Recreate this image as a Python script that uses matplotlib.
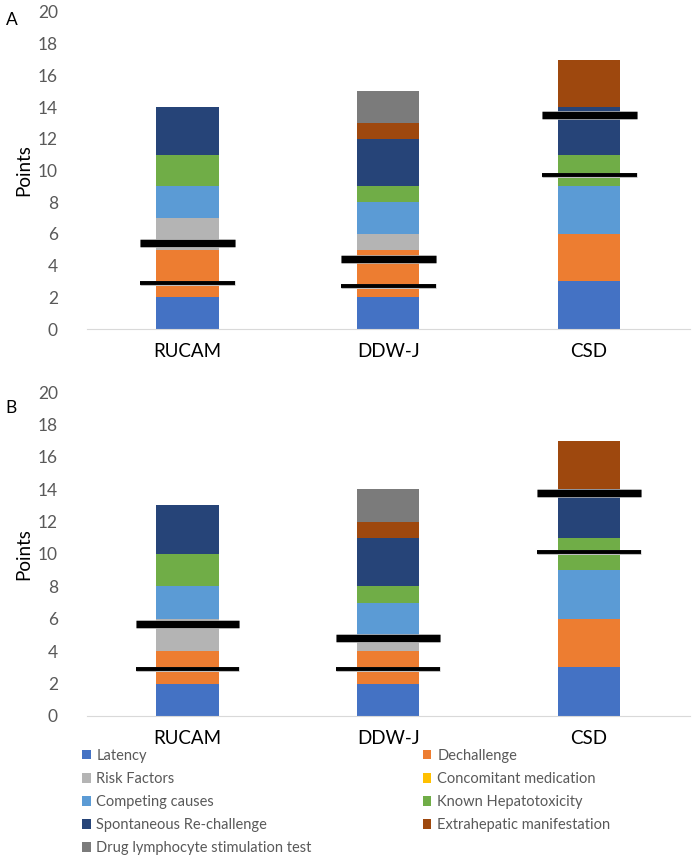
import matplotlib.pyplot as plt
import matplotlib.patheffects as pe
from matplotlib.patches import Patch
import numpy as np

plt.rcParams['font.family'] = ['Lato', 'DejaVu Sans']

tools = ['RUCAM', 'DDW-J', 'CSD']

criteria = ['Latency', 'Dechallenge', 'Risk Factors', 'Concomitant medication',
            'Competing causes', 'Known Hepatotoxicity', 'Spontaneous Re-challenge',
            'Extrahepatic manifestation', 'Drug lymphocyte stimulation test']
colors = ['#4472C4', '#ED7D31', '#B4B4B4', '#FFC000', '#5B9BD5', '#70AD47',
          '#264478', '#9E480E', '#7B7B7B']

# panel A, points per criterion (RUCAM, DDW-J, CSD)
a_latency = [2, 2, 3]
a_dechallenge = [3, 3, 3]
a_risk = [2, 1, 0]
a_concomitant = [0, 0, 0]
a_competing = [2, 2, 3]
a_known = [2, 1, 2]
a_rechallenge = [3, 3, 3]
a_extrahepatic = [0, 1, 3]
a_dlst = [0, 2, 0]
a_upper = [5.4, 4.4, 13.5]
a_lower = [2.9, 2.7, 9.7]

# panel B
b_latency = [2, 2, 3]
b_dechallenge = [2, 2, 3]
b_risk = [2, 1, 0]
b_concomitant = [0, 0, 0]
b_competing = [2, 2, 3]
b_known = [2, 1, 2]
b_rechallenge = [3, 3, 3]
b_extrahepatic = [0, 1, 3]
b_dlst = [0, 2, 0]
b_upper = [5.7, 4.8, 13.75]
b_lower = [2.9, 2.9, 10.1]

panels = [
    ('A', [a_latency, a_dechallenge, a_risk, a_concomitant, a_competing, a_known,
           a_rechallenge, a_extrahepatic, a_dlst], a_upper, a_lower, 0.237),
    ('B', [b_latency, b_dechallenge, b_risk, b_concomitant, b_competing, b_known,
           b_rechallenge, b_extrahepatic, b_dlst], b_upper, b_lower, 0.258),
]

fig = plt.figure(figsize=(6.93, 8.55), dpi=100)
boxes = [[0.1255, 0.6152, 0.8695, 0.3708], [0.1255, 0.1626, 0.8695, 0.3789]]
letter_y = [0.977, 0.523]

x = np.arange(len(tools))
for (letter, series, upper, lower, half), box, ly in zip(panels, boxes, letter_y):
    ax = fig.add_axes(box)
    bottom = np.zeros(len(tools))
    for vals, col in zip(series, colors):
        ax.bar(x, vals, width=0.31, bottom=bottom, color=col, linewidth=0)
        bottom += np.array(vals)
    for xi, u, l in zip(x, upper, lower):
        ax.plot([xi - half, xi + half], [u, u], color='black', lw=5.2,
                solid_capstyle='butt',
                path_effects=[pe.Stroke(linewidth=6.2, foreground='#BFBFBF'), pe.Normal()])
        ax.plot([xi - half, xi + half], [l, l], color='black', lw=2.8,
                solid_capstyle='butt',
                path_effects=[pe.Stroke(linewidth=3.6, foreground='#BFBFBF'), pe.Normal()])
    ax.set_xlim(-0.5, 2.5)
    ax.set_ylim(0, 20)
    ax.set_yticks(range(0, 21, 2))
    ax.set_xticks(x)
    ax.set_xticklabels(tools, fontsize=13.5, color='black')
    ax.tick_params(axis='y', length=0, pad=21, labelsize=12.5, labelcolor='#595959')
    ax.tick_params(axis='x', length=0, pad=10)
    for s in ['top', 'right', 'left']:
        ax.spines[s].set_visible(False)
    ax.spines['bottom'].set_color('#D9D9D9')
    ax.set_ylabel('Points', fontsize=13.5, color='black')
    ax.yaxis.set_label_coords(-0.09, 0.5)
    fig.text(0.008, ly, letter, fontsize=12.5, color='black', va='center')

order = [0, 2, 4, 6, 8, 1, 3, 5, 7]
handles = [Patch(facecolor=colors[i], edgecolor='none', label=criteria[i]) for i in order]
fig.legend(handles=handles, ncol=2, loc='upper left', bbox_to_anchor=(0.118, 0.124),
           frameon=False, fontsize=10.5, labelcolor='#595959', handlelength=0.6,
           handleheight=0.6, handletextpad=0.4, labelspacing=0.62, columnspacing=7.6,
           borderaxespad=0, borderpad=0)

fig.savefig('out.png', dpi=100)
